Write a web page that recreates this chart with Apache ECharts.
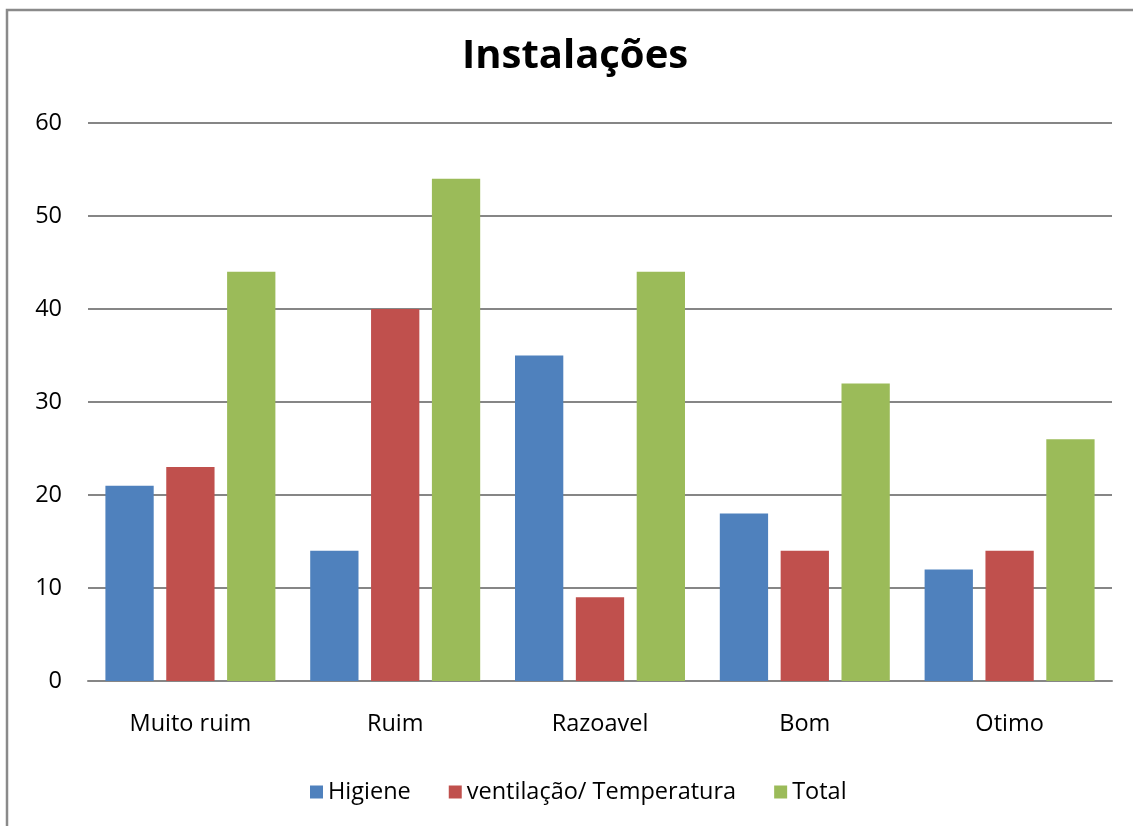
<!DOCTYPE html>
<html>
<head>
<meta charset="utf-8">
<script src="https://cdn.jsdelivr.net/npm/echarts@6/dist/echarts.min.js"></script>
<style>
  html, body { margin: 0; padding: 0; background: #fff; }
  #chart { width: 1133px; height: 826px; }
</style>
</head>
<body>
<div id="chart"></div>
<script>
// Survey answers on the facilities, by rating
const categories = ['Muito ruim', 'Ruim', 'Razoavel', 'Bom', 'Otimo'];
const higiene = [21, 14, 35, 18, 12];
const ventilacao = [23, 40, 9, 14, 14];
const total = [44, 54, 44, 32, 26];
const seriesNames = ['Higiene', 'ventilação/ Temperatura', 'Total'];

const FONT = '"Open Sans", sans-serif';
const chart = echarts.init(document.getElementById('chart'));

const barSeries = (name, data, color) => ({
  name, type: 'bar', data,
  itemStyle: { color },
  barGap: '26%',
  barCategoryGap: '17%',
  emphasis: { disabled: true }
});

chart.setOption({
  animation: false,
  backgroundColor: '#fff',
  graphic: [{
    type: 'rect',
    shape: { x: 7, y: 10, width: 1300, height: 1000 },
    style: { fill: 'none', stroke: '#8a8a8a', lineWidth: 2.5 },
    silent: true
  }],
  title: {
    text: 'Instalações',
    left: 457,
    top: 32,
    textStyle: { fontFamily: FONT, fontWeight: 'bold', fontSize: 40, color: '#000' }
  },
  legend: {
    data: seriesNames,
    bottom: 17,
    left: 305,
    icon: 'rect',
    itemWidth: 13,
    itemHeight: 13,
    itemGap: 38,
    textStyle: { fontFamily: FONT, fontSize: 23.5, color: '#000' }
  },
  grid: { left: 88, right: 21, top: 123, bottom: 145, containLabel: false },
  xAxis: {
    type: 'category',
    data: categories,
    axisLine: { lineStyle: { color: '#868686', width: 2 } },
    axisTick: { show: false },
    axisLabel: { fontFamily: FONT, fontSize: 23.5, color: '#000', margin: 31 }
  },
  yAxis: {
    type: 'value',
    min: 0, max: 60, interval: 10,
    axisLine: { show: false },
    axisTick: { show: false },
    axisLabel: { fontFamily: FONT, fontSize: 23.5, color: '#000', margin: 26 },
    splitLine: { lineStyle: { color: '#868686', width: 2 } }
  },
  series: [
    barSeries(seriesNames[0], higiene, '#4F81BD'),
    barSeries(seriesNames[1], ventilacao, '#C0504D'),
    barSeries(seriesNames[2], total, '#9BBB59')
  ]
});
</script>
</body>
</html>
